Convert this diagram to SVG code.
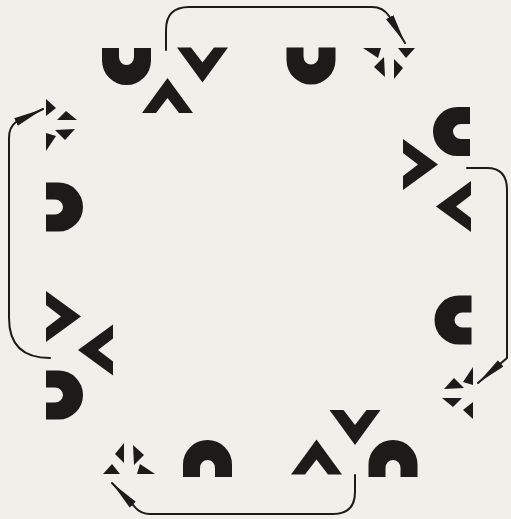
<svg xmlns="http://www.w3.org/2000/svg" width="511" height="519" viewBox="0 0 511 519">
  <style>
    .ink { fill: #1d1a1a; }
    .conn { fill: none; stroke: #1d1a1a; stroke-width: 2; stroke-linecap: round; stroke-linejoin: round; }
  </style>
  <defs>
    <path id="u" d="M-24.5,-18.5 V-6 A24.5,24.5 0 0 0 24.5,-6 V-18.5 H7.5 V-9.5 A7.5,8 0 0 1 -7.5,-9.5 V-18.5 Z"/>
    <path id="chev" d="M0,-17.5 L25.5,17.5 H11.5 L0,2.5 L-11.5,17.5 H-25.5 Z"/>
    <g id="star">
      <path d="M-26,-12 H-8 L-11,-2 Z"/>
      <path d="M9,-12 H26 L17,-2 Z"/>
      <path d="M-5,-3 L-4,17 L-15,7 Z"/>
      <path d="M5,-1 L5,19 L14,8 Z"/>
    </g>
    <marker id="head" markerUnits="userSpaceOnUse" markerWidth="32" markerHeight="10" refX="30" refY="5" orient="auto" viewBox="0 0 32 10">
      <path d="M0,0.8 L30,5 L0,9.2 Z" fill="#1d1a1a"/>
    </marker>
  </defs>
  <rect width="511" height="519" fill="#f0efea"/>

  <!-- top row -->
  <g id="top-u1" class="ink"><use href="#u" transform="translate(126.5,66.5)"/></g>
  <g id="top-chevrons" class="ink">
    <use href="#chev" transform="translate(167.5,95.5)"/>
    <use href="#chev" transform="translate(202.5,65) rotate(180)"/>
  </g>
  <g id="top-u2" class="ink"><use href="#u" transform="translate(311,66)"/></g>
  <g id="top-star" class="ink"><use href="#star" transform="translate(389,60)"/></g>

  <!-- right column -->
  <g id="right-c1" class="ink"><use href="#u" transform="translate(451.5,131.5) rotate(90)"/></g>
  <g id="right-chevrons" class="ink">
    <use href="#chev" transform="translate(420.5,164.5) rotate(90)"/>
    <use href="#chev" transform="translate(453.5,206.5) rotate(270)"/>
  </g>
  <g id="right-c2" class="ink"><use href="#u" transform="translate(453,320) rotate(90)"/></g>
  <g id="right-star" class="ink"><use href="#star" transform="translate(461,393) rotate(90)"/></g>

  <!-- bottom row -->
  <g id="bottom-n2" class="ink"><use href="#u" transform="translate(393,458.5) rotate(180)"/></g>
  <g id="bottom-chevrons" class="ink">
    <use href="#chev" transform="translate(355,427.5) rotate(180)"/>
    <use href="#chev" transform="translate(316.5,457)"/>
  </g>
  <g id="bottom-n1" class="ink"><use href="#u" transform="translate(207.5,458.5) rotate(180)"/></g>
  <g id="bottom-star" class="ink"><use href="#star" transform="translate(129,462) rotate(180)"/></g>

  <!-- left column -->
  <g id="left-d2" class="ink"><use href="#u" transform="translate(64.5,395) rotate(270)"/></g>
  <g id="left-chevrons" class="ink">
    <use href="#chev" transform="translate(95.5,350) rotate(270)"/>
    <use href="#chev" transform="translate(63.5,316.5) rotate(90)"/>
  </g>
  <g id="left-d1" class="ink"><use href="#u" transform="translate(64.5,207) rotate(270)"/></g>
  <g id="left-star" class="ink"><use href="#star" transform="translate(58,125) rotate(270)"/></g>

  <!-- connectors -->
  <g id="connectors">
    <path class="conn" marker-end="url(#head)" d="M166,50 V30 Q166,7 189,7 H372 Q383,7 389,16 L405,43"/>
    <path class="conn" marker-end="url(#head)" d="M467,168 H487 Q507,168 507,190 V358 L478,383"/>
    <path class="conn" marker-end="url(#head)" d="M355,475 V492 Q355,514 333,514 H150 Q140,514 134,506 L112,483"/>
    <path class="conn" marker-end="url(#head)" d="M50,358 Q9,358 9,318 V138 Q9,127 16,122 L43,109"/>
  </g>
</svg>
